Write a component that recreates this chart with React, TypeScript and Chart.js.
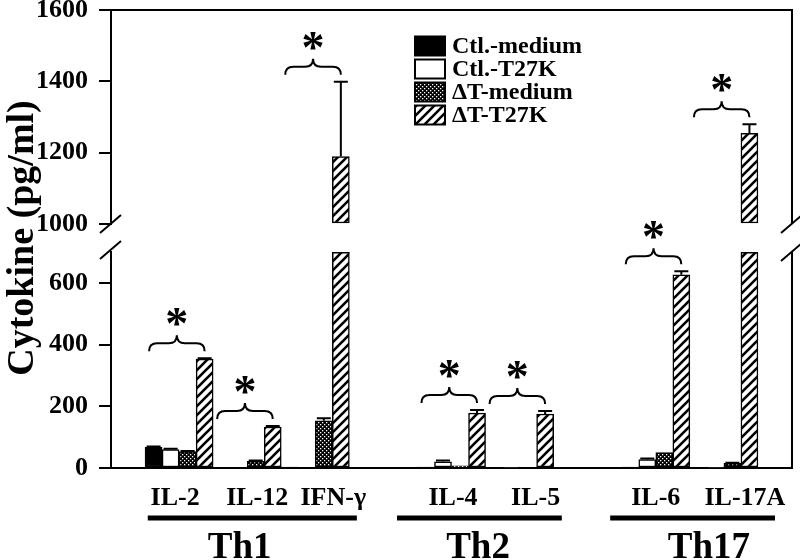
import React, { useEffect, useRef } from 'react';
import { Chart, registerables } from 'chart.js';

Chart.register(...registerables);

// ---- data ----
const categories = ['', 'IL-2', 'IL-12', 'IFN-γ', '', 'IL-4', 'IL-5', '', 'IL-6', 'IL-17A', ''];
const seriesNames = ['Ctl.-medium', 'Ctl.-T27K', 'ΔT-medium', 'ΔT-T27K'];
const ctlMedium = [null, 67, 0, 2, null, 3, 0, null, 2, 0, null];
const ctlT27K = [null, 60, 0, 0, null, 20, 3, null, 27, 3, null];
const dtMedium = [null, 53, 22, 153, null, 7, 0, null, 50, 15, null];
const dtT27K = [null, 353, 133, 1189, null, 178, 175, null, 626, 1254, null];
const ctlMediumErr = [null, 3, 0, 0, null, 0, 0, null, 0, 0, null];
const ctlT27KErr = [null, 2, 0, 0, null, 4, 0, null, 4, 0, null];
const dtMediumErr = [null, 2, 2, 8, null, 0, 0, null, 0, 2, null];
const dtT27KErr = [null, 3, 3, 210, null, 10, 10, null, 12, 26, null];
const significant = [false, true, true, true, false, true, true, false, true, true, false];
const lowTicks = [0, 200, 400, 600];
const highTicks = [1000, 1200, 1400, 1600];
const lowRange = [0, 700];
const highRange = [1000, 1600];
const groupNames = ['Th1', 'Th2', 'Th17'];
const yTitle = 'Cytokine (pg/ml)';

// ---- layout helpers (not data) ----
const groupSpans = [[0.54, 3.61], [4.2, 6.62], [7.33, 9.75]];
const groupCenters = [1.89, 5.39, 8.78];
const labelShift = [0, -4, 10, 18, 0, 1.5, 16, 0, 0, 21, 0];
const FONT = "'Liberation Serif', 'Times New Roman', serif";

const seriesValues = [ctlMedium, ctlT27K, dtMedium, dtT27K];
const seriesErrors = [ctlMediumErr, ctlT27KErr, dtMediumErr, dtT27KErr];

function makeHatch(): CanvasPattern | string {
  const c = document.createElement('canvas');
  const s = 9;
  c.width = s; c.height = s;
  const g = c.getContext('2d');
  if (!g) return '#fff';
  g.fillStyle = '#fff';
  g.fillRect(0, 0, s, s);
  g.strokeStyle = '#000';
  g.lineWidth = 2.6;
  g.beginPath();
  g.moveTo(-1, s + 1); g.lineTo(s + 1, -1);
  g.moveTo(-s / 2 - 1, s / 2 + 1); g.lineTo(s / 2 + 1, -s / 2 - 1);
  g.moveTo(s / 2 - 1, s * 1.5 + 1); g.lineTo(s * 1.5 + 1, s / 2 - 1);
  g.stroke();
  return g.createPattern(c, 'repeat') || '#fff';
}

function makeDots(): CanvasPattern | string {
  const c = document.createElement('canvas');
  c.width = 4; c.height = 4;
  const g = c.getContext('2d');
  if (!g) return '#333';
  g.fillStyle = '#000';
  g.fillRect(0, 0, 4, 4);
  g.fillStyle = '#fff';
  g.fillRect(0, 0, 1.3, 1.3);
  g.fillRect(2, 2, 1.3, 1.3);
  return g.createPattern(c, 'repeat') || '#333';
}

const panelClip = {
  id: 'panelClip',
  beforeDatasetDraw(chart: any, args: any) {
    const ys = args.meta.yScale;
    const ctx = chart.ctx;
    ctx.save();
    ctx.beginPath();
    ctx.rect(chart.chartArea.left - 2, ys.top, chart.chartArea.width + 4, ys.bottom - ys.top);
    ctx.clip();
  },
  afterDatasetDraw(chart: any, args: any) {
    const ctx = chart.ctx;
    ctx.restore();
    const meta = args.meta;
    const ys = meta.yScale;
    if (ys.id !== 'yLow') return;
    const vals = seriesValues[args.index];
    ctx.save();
    ctx.strokeStyle = '#000';
    ctx.lineWidth = 1.5;
    meta.data.forEach((el: any, i: number) => {
      const v = vals[i];
      if (v != null && v > ys.max) {
        ctx.beginPath();
        ctx.moveTo(el.x - el.width / 2, ys.top + 0.75);
        ctx.lineTo(el.x + el.width / 2, ys.top + 0.75);
        ctx.stroke();
      }
    });
    ctx.restore();
  },
};

const decorations = {
  id: 'decorations',
  afterDraw(chart: any) {
    const ctx = chart.ctx;
    const area = chart.chartArea;
    const yHigh = chart.scales.yHigh;
    const yLow = chart.scales.yLow;
    const x = chart.scales.x;
    ctx.save();
    ctx.strokeStyle = '#000';
    ctx.fillStyle = '#000';
    ctx.lineWidth = 2;

    // frame: top and right
    ctx.beginPath();
    ctx.moveTo(area.left, yHigh.top);
    ctx.lineTo(area.right, yHigh.top);
    ctx.lineTo(area.right, yHigh.bottom);
    ctx.moveTo(area.right, yLow.top);
    ctx.lineTo(area.right, yLow.bottom);
    ctx.stroke();

    // break marks
    const slash = (cx: number, cy: number) => {
      ctx.beginPath();
      ctx.moveTo(cx - 11, cy + 9);
      ctx.lineTo(cx + 10, cy - 9);
      ctx.stroke();
    };
    slash(area.left, yHigh.bottom);
    slash(area.left, yLow.top - 2);
    slash(area.right, yHigh.bottom);
    slash(area.right, yLow.top);

    // error bars
    const topPix: number[] = [];
    for (let s = 0; s < 4; s++) {
      const vals = seriesValues[s];
      const errs = seriesErrors[s];
      for (let i = 0; i < categories.length; i++) {
        const v = vals[i];
        if (v == null) continue;
        const useHigh = v > yLow.max;
        const meta = chart.getDatasetMeta(useHigh ? s + 4 : s);
        const scale = useHigh ? yHigh : yLow;
        const el = meta.data[i];
        const e = errs[i] || 0;
        const yv = scale.getPixelForValue(v);
        const yt = scale.getPixelForValue(v + e);
        if (topPix[i] === undefined || yt < topPix[i]) topPix[i] = yt;
        if (e > 0) {
          ctx.lineWidth = 2;
          ctx.beginPath();
          ctx.moveTo(el.x, yv);
          ctx.lineTo(el.x, yt);
          ctx.moveTo(el.x - 7, yt);
          ctx.lineTo(el.x + 7, yt);
          ctx.stroke();
        }
      }
    }

    // significance braces and asterisks
    for (let i = 0; i < categories.length; i++) {
      if (!significant[i]) continue;
      const first = chart.getDatasetMeta(0).data[i];
      const last = chart.getDatasetMeta(3).data[i];
      const x0 = first.x - first.width / 2 + 4;
      const x1 = last.x;
      const y0 = topPix[i] - 7;
      const h = 8;
      const xm = (x0 + x1) / 2;
      ctx.lineWidth = 2;
      ctx.beginPath();
      ctx.moveTo(x0, y0);
      ctx.quadraticCurveTo(x0, y0 - h, x0 + h, y0 - h);
      ctx.lineTo(xm - h, y0 - h);
      ctx.quadraticCurveTo(xm, y0 - h, xm, y0 - 2 * h);
      ctx.quadraticCurveTo(xm, y0 - h, xm + h, y0 - h);
      ctx.lineTo(x1 - h, y0 - h);
      ctx.quadraticCurveTo(x1, y0 - h, x1, y0);
      ctx.stroke();
      ctx.font = `bold 46px ${FONT}`;
      ctx.textAlign = 'center';
      ctx.textBaseline = 'alphabetic';
      ctx.fillText('*', xm, y0 - 12);
    }

    // legend
    const lx = 415, ly = 46, rowH = 23, bw = 30, bh = 19;
    ctx.font = `bold 24px ${FONT}`;
    ctx.textAlign = 'left';
    ctx.textBaseline = 'middle';
    for (let s = 0; s < 4; s++) {
      const ds = chart.data.datasets[s];
      const cy = ly + s * rowH;
      ctx.fillStyle = ds.backgroundColor;
      ctx.fillRect(lx, cy - bh / 2, bw, bh);
      ctx.lineWidth = 2;
      ctx.strokeStyle = '#000';
      ctx.strokeRect(lx, cy - bh / 2, bw, bh);
      ctx.fillStyle = '#000';
      ctx.fillText(ds.label, lx + bw + 7, cy + 1);
    }

    // category labels
    ctx.font = `bold 26px ${FONT}`;
    ctx.textAlign = 'center';
    ctx.textBaseline = 'alphabetic';
    ctx.fillStyle = '#000';
    categories.forEach((c, i) => {
      if (!c) return;
      ctx.fillText(c, x.getPixelForValue(i) + labelShift[i], area.bottom + 37);
    });

    // group underlines and names
    groupNames.forEach((g, k) => {
      const xa = x.getPixelForValue(groupSpans[k][0]);
      const xb = x.getPixelForValue(groupSpans[k][1]);
      ctx.fillRect(xa, area.bottom + 47.5, xb - xa, 5);
      ctx.font = `bold 37px ${FONT}`;
      ctx.fillText(g, x.getPixelForValue(groupCenters[k]), area.bottom + 90);
    });
    ctx.restore();
  },
};

export default function App() {
  const ref = useRef<HTMLCanvasElement>(null);
  useEffect(() => {
    if (!ref.current) return;
    const hatch = makeHatch();
    const dots = makeDots();
    const fills: any[] = ['#000', '#fff', dots, hatch];
    const baseDs = (s: number, high: boolean) => ({
      label: seriesNames[s],
      data: seriesValues[s],
      backgroundColor: fills[s],
      borderColor: '#000',
      borderWidth: 1.5,
      borderSkipped: false,
      yAxisID: high ? 'yHigh' : 'yLow',
      stack: 'g' + s,
      base: high ? highRange[0] : lowRange[0],
      categoryPercentage: 1,
      barPercentage: 1,
    });
    const datasets = [0, 1, 2, 3].map((s) => baseDs(s, false)).concat([0, 1, 2, 3].map((s) => baseDs(s, true)));
    const tickFont = { family: FONT, size: 26, weight: 'bold' as const };
    const yCommon = {
      type: 'linear' as const,
      position: 'left' as const,
      stack: 'y',
      stacked: false,
      grid: { display: true, drawOnChartArea: false, drawTicks: true, tickLength: 12, color: '#000', lineWidth: 2 },
      border: { display: true, color: '#000', width: 2 },
      ticks: { color: '#000', font: tickFont, padding: 11, callback: (v: any) => String(v) },
    };
    const fit = (s: any) => { s.width = 111; s.paddingTop = 0; s.paddingBottom = 0; };
    const chart = new Chart(ref.current, {
      type: 'bar',
      data: { labels: categories, datasets: datasets as any },
      plugins: [panelClip, decorations],
      options: {
        responsive: false,
        animation: false,
        layout: { padding: { top: 10, right: 8, left: 0, bottom: 0 } },
        plugins: { legend: { display: false }, tooltip: { enabled: false } },
        scales: {
          yLow: {
            ...yCommon,
            stackWeight: 216,
            min: lowRange[0],
            max: lowRange[1],
            afterBuildTicks: (s: any) => { s.ticks = lowTicks.map((v) => ({ value: v })); },
            afterFit: fit,
          },
          yGap: {
            type: 'linear',
            position: 'left',
            stack: 'y',
            stackWeight: 28,
            min: 0,
            max: 1,
            grid: { display: false },
            border: { display: false },
            ticks: { display: false },
            title: { display: true, text: yTitle, color: '#000', font: { family: FONT, size: 38, weight: 'bold' }, padding: 0 },
            afterFit: fit,
          },
          yHigh: {
            ...yCommon,
            stackWeight: 214,
            min: highRange[0],
            max: highRange[1],
            afterBuildTicks: (s: any) => { s.ticks = highTicks.map((v) => ({ value: v })); },
            afterFit: fit,
          },
          x: {
            type: 'category',
            offset: false,
            grid: { display: false },
            border: { display: true, color: '#000', width: 2 },
            ticks: { display: false },
            afterFit: (s: any) => { s.height = 92; s.paddingLeft = 0; s.paddingRight = 0; },
          },
        } as any,
      },
    } as any);
    return () => chart.destroy();
  }, []);
  return (
    <div style={{ position: 'fixed', left: 0, top: 0, width: 800, height: 560, background: '#fff' }}>
      <canvas ref={ref} width={800} height={560} style={{ width: '800px', height: '560px', display: 'block' }} />
    </div>
  );
}
